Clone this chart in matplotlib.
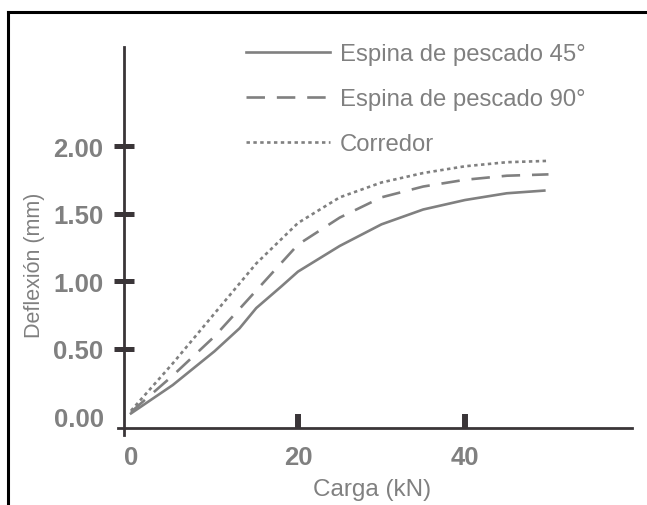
import matplotlib.pyplot as plt
from matplotlib.lines import Line2D

# Datos: carga (kN) vs deflexión (mm)
carga_45 = [0, 5, 10, 13, 15, 18, 20, 25, 30, 35, 40, 45, 49.5]
defl_45 = [0.02, 0.23, 0.48, 0.65, 0.80, 0.96, 1.07, 1.26, 1.42, 1.53, 1.60, 1.65, 1.67]

carga_90 = [0, 5, 10, 15, 20, 25, 30, 35, 40, 45, 50]
defl_90 = [0.03, 0.30, 0.59, 0.93, 1.27, 1.47, 1.62, 1.70, 1.75, 1.78, 1.79]

carga_corr = [0, 3, 5, 10, 15, 20, 25, 30, 35, 40, 45, 50]
defl_corr = [0.04, 0.25, 0.39, 0.76, 1.13, 1.43, 1.62, 1.73, 1.80, 1.85, 1.88, 1.89]

series = ['Espina de pescado 45°', 'Espina de pescado 90°', 'Corredor']
xticks = [0, 20, 40]
yticks = [0, 0.5, 1.0, 1.5, 2.0]

gris = '#808080'
eje = '#3a3538'

plt.rcParams['font.family'] = ['Liberation Sans', 'DejaVu Sans']

fig = plt.figure(figsize=(6.47, 5.06), dpi=100)
ax = fig.add_axes([0.1818, 0.1383, 0.795, 0.766])

ax.plot(carga_45, defl_45, color=gris, lw=1.9, label=series[0])
ax.plot(carga_90, defl_90, color=gris, lw=1.9, dashes=(7, 4.5), label=series[1])
ax.plot(carga_corr, defl_corr, color=gris, lw=1.9, dashes=(1.3, 1.3), label=series[2])

ax.set_xlim(-1.6, 60)
ax.set_ylim(-0.14, 2.73)

# Ejes
for s in ['top', 'right']:
    ax.spines[s].set_visible(False)
ax.spines['left'].set_position(('data', -0.84))
ax.spines['bottom'].set_position(('data', -0.09))
ax.spines['left'].set_color(eje)
ax.spines['bottom'].set_color(eje)
ax.spines['left'].set_linewidth(2)
ax.spines['bottom'].set_linewidth(2)

ax.set_xticks(xticks)
ax.set_xticklabels([str(v) for v in xticks])
ax.set_yticks(yticks)
ax.set_yticklabels([f'{v:.2f}' for v in yticks])

ax.tick_params(axis='y', direction='inout', length=14.4, width=3.6, color=eje,
               labelcolor=gris, labelsize=18.5, pad=7.5)
ax.tick_params(axis='x', direction='in', length=10, width=4.3, color=eje,
               labelcolor=gris, labelsize=18.5, pad=12)
for lab in ax.get_xticklabels() + ax.get_yticklabels():
    lab.set_fontweight('bold')
ax.xaxis.get_major_ticks()[0].tick1line.set_visible(False)
ax.yaxis.get_major_ticks()[0].tick1line.set_visible(False)

ax.set_xlabel('Carga (kN)', color=gris, fontsize=17.5)
ax.set_ylabel('Deflexión (mm)', color=gris, fontsize=15.5)
ax.xaxis.set_label_coords(372 / 647, 1 - 490 / 506, transform=fig.transFigure)
ax.xaxis.label.set_va('center')
ax.yaxis.set_label_coords(35 / 647, 1 - 265 / 506, transform=fig.transFigure)
ax.yaxis.label.set_va('center')

ax.legend(loc='upper left', bbox_to_anchor=(246 / 647, 1 - 44 / 506),
          bbox_transform=fig.transFigure, frameon=False, fontsize=17.2,
          handlelength=3.5, handletextpad=0.42, labelspacing=0.96,
          borderpad=0, borderaxespad=0, labelcolor=gris)

# Marco negro (borde izquierdo y superior)
top = 1 - 13 / 506
left = 8 / 647
fig.add_artist(Line2D([left, left], [0, top], transform=fig.transFigure, color='black', lw=2.2))
fig.add_artist(Line2D([left, 1], [top, top], transform=fig.transFigure, color='black', lw=2.2))

fig.savefig('out.png', dpi=100)
